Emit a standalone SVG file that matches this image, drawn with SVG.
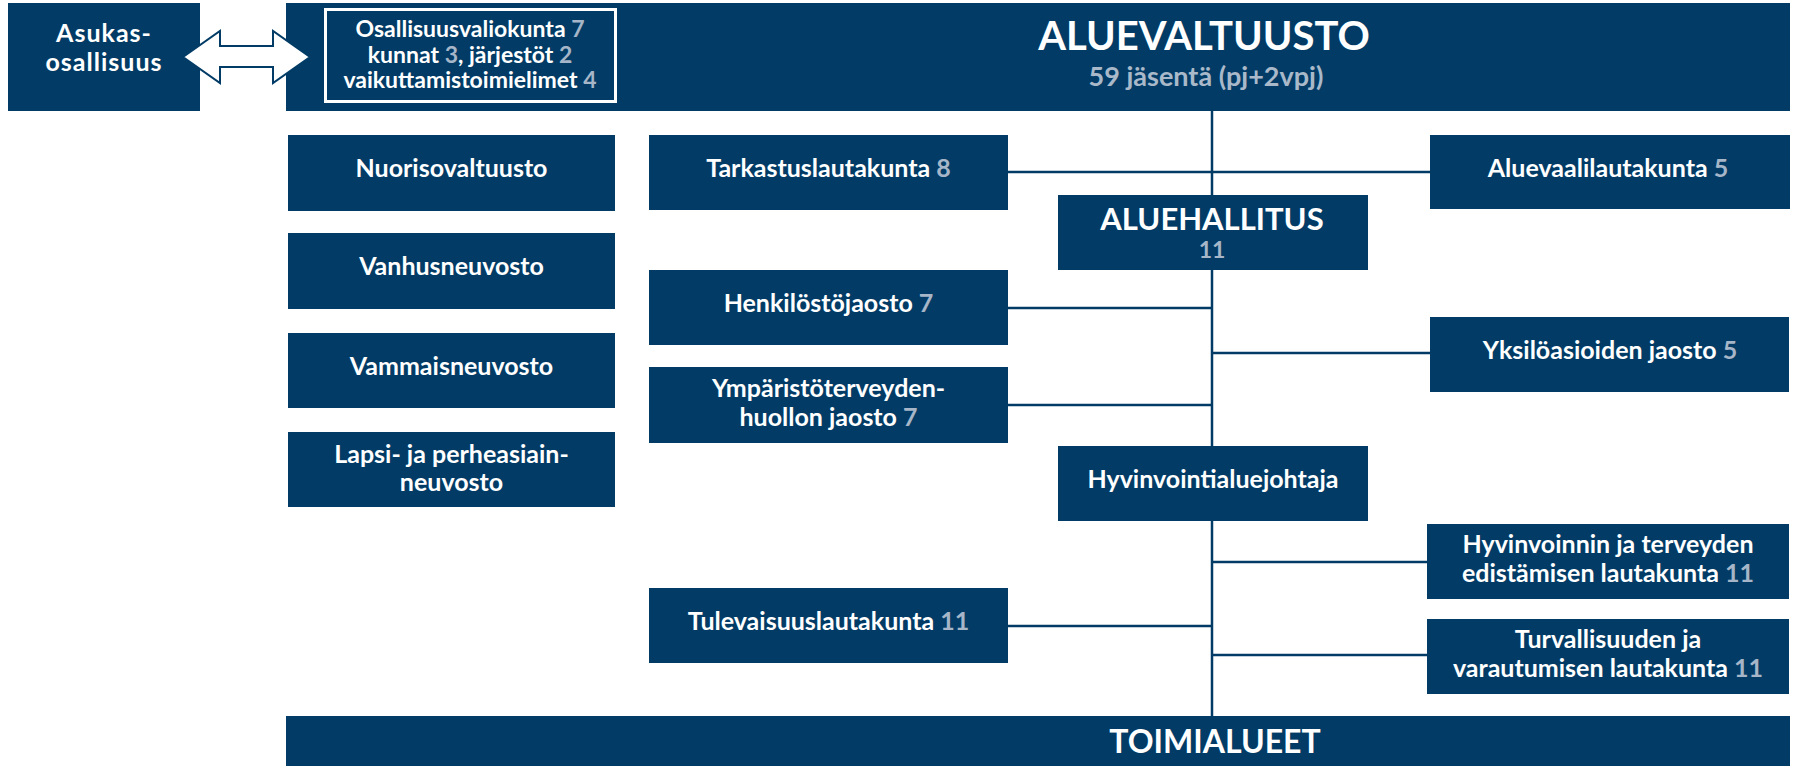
<svg xmlns="http://www.w3.org/2000/svg" width="1793" height="766" viewBox="0 0 1793 766">
<defs>
<style>
.box{fill:#023c66;}
.t{font-family:Lato,"Liberation Sans",sans-serif;font-weight:700;font-size:25px;fill:#ffffff;text-anchor:middle;}
.n{fill:#a6b6c8;}
.big{font-size:40px;}
.mid{font-size:31px;}
.sm{font-size:23px;}
.sub{font-size:27px;fill:#a9b9ca;}
.ln{stroke:#023c66;stroke-width:2.5;fill:none;}
</style>
</defs>
<rect width="1793" height="766" fill="#ffffff"/>

<g id="connectors">
<line class="ln" x1="1212" y1="110" x2="1212" y2="717"/>
<line class="ln" x1="1007" y1="172" x2="1431" y2="172"/>
<line class="ln" x1="1007" y1="308" x2="1212" y2="308"/>
<line class="ln" x1="1212" y1="353" x2="1431" y2="353"/>
<line class="ln" x1="1007" y1="405" x2="1212" y2="405"/>
<line class="ln" x1="1212" y1="562" x2="1428" y2="562"/>
<line class="ln" x1="1007" y1="626" x2="1212" y2="626"/>
<line class="ln" x1="1212" y1="655" x2="1428" y2="655"/>
</g>

<g id="asukas">
<rect class="box" x="8" y="3" width="192" height="108"/>
<text class="t" x="104" y="42" style="letter-spacing:1px">Asukas-</text>
<text class="t" x="104" y="71" style="letter-spacing:1px">osallisuus</text>
</g>

<g id="aluevaltuusto">
<rect class="box" x="286" y="3" width="1504" height="108"/>
<text class="t big" x="1204" y="50">ALUEVALTUUSTO</text>
<text class="t sub" x="1206" y="86">59 jäsentä (pj+2vpj)</text>
</g>

<g id="osallisuusvaliokunta">
<rect x="325.5" y="9.5" width="290" height="92" fill="#023c66" stroke="#ffffff" stroke-width="3"/>
<text class="t sm" x="470" y="37">Osallisuusvaliokunta <tspan class="n">7</tspan></text>
<text class="t sm" x="470" y="63">kunnat <tspan class="n">3</tspan>, järjestöt <tspan class="n">2</tspan></text>
<text class="t sm" x="470" y="88">vaikuttamistoimielimet <tspan class="n">4</tspan></text>
</g>

<g id="arrow">
<polygon points="183,57 220,31 220,46 273,46 273,31 310,57 273,83 273,67 220,67 220,83" fill="#ffffff" stroke="#023c66" stroke-width="2" stroke-linejoin="miter"/>
</g>

<g id="nuorisovaltuusto">
<rect class="box" x="288" y="135" width="327" height="76"/>
<text class="t" x="451.5" y="177">Nuorisovaltuusto</text>
</g>
<g id="vanhusneuvosto">
<rect class="box" x="288" y="233" width="327" height="76"/>
<text class="t" x="451.5" y="275">Vanhusneuvosto</text>
</g>
<g id="vammaisneuvosto">
<rect class="box" x="288" y="333" width="327" height="75"/>
<text class="t" x="451.5" y="375">Vammaisneuvosto</text>
</g>
<g id="lapsi">
<rect class="box" x="288" y="432" width="327" height="75"/>
<text class="t" x="451.5" y="463">Lapsi- ja perheasiain-</text>
<text class="t" x="451.5" y="491">neuvosto</text>
</g>

<g id="tarkastuslautakunta">
<rect class="box" x="649" y="135" width="359" height="75"/>
<text class="t" x="828.5" y="177">Tarkastuslautakunta <tspan class="n">8</tspan></text>
</g>
<g id="henkilostojaosto">
<rect class="box" x="649" y="270" width="359" height="75"/>
<text class="t" x="828.5" y="312">Henkilöstöjaosto <tspan class="n">7</tspan></text>
</g>
<g id="ymparisto">
<rect class="box" x="649" y="367" width="359" height="76"/>
<text class="t" x="828.5" y="397">Ympäristöterveyden-</text>
<text class="t" x="828.5" y="426">huollon jaosto <tspan class="n">7</tspan></text>
</g>
<g id="tulevaisuuslautakunta">
<rect class="box" x="649" y="588" width="359" height="75"/>
<text class="t" x="828.5" y="630">Tulevaisuuslautakunta <tspan class="n">11</tspan></text>
</g>

<g id="aluehallitus">
<rect class="box" x="1058" y="195" width="310" height="75"/>
<text class="t mid" x="1212" y="230">ALUEHALLITUS</text>
<text class="t n" x="1212" y="258" style="font-size:23px">11</text>
</g>
<g id="hyvinvointialuejohtaja">
<rect class="box" x="1058" y="446" width="310" height="75"/>
<text class="t" x="1213" y="488">Hyvinvointialuejohtaja</text>
</g>

<g id="aluevaalilautakunta">
<rect class="box" x="1430" y="135" width="360" height="74"/>
<text class="t" x="1608" y="177">Aluevaalilautakunta <tspan class="n">5</tspan></text>
</g>
<g id="yksiloasioiden">
<rect class="box" x="1430" y="317" width="359" height="75"/>
<text class="t" x="1610" y="359">Yksilöasioiden jaosto <tspan class="n">5</tspan></text>
</g>
<g id="hyvinvoinnin">
<rect class="box" x="1427" y="524" width="362" height="75"/>
<text class="t" x="1608" y="553">Hyvinvoinnin ja terveyden</text>
<text class="t" x="1608" y="582">edistämisen lautakunta <tspan class="n">11</tspan></text>
</g>
<g id="turvallisuuden">
<rect class="box" x="1427" y="619" width="362" height="75"/>
<text class="t" x="1608" y="648">Turvallisuuden ja</text>
<text class="t" x="1608" y="677">varautumisen lautakunta <tspan class="n">11</tspan></text>
</g>

<g id="toimialueet">
<rect class="box" x="286" y="716" width="1504" height="50"/>
<text class="t mid" x="1215" y="753" style="font-size:32px">TOIMIALUEET</text>
</g>
</svg>
